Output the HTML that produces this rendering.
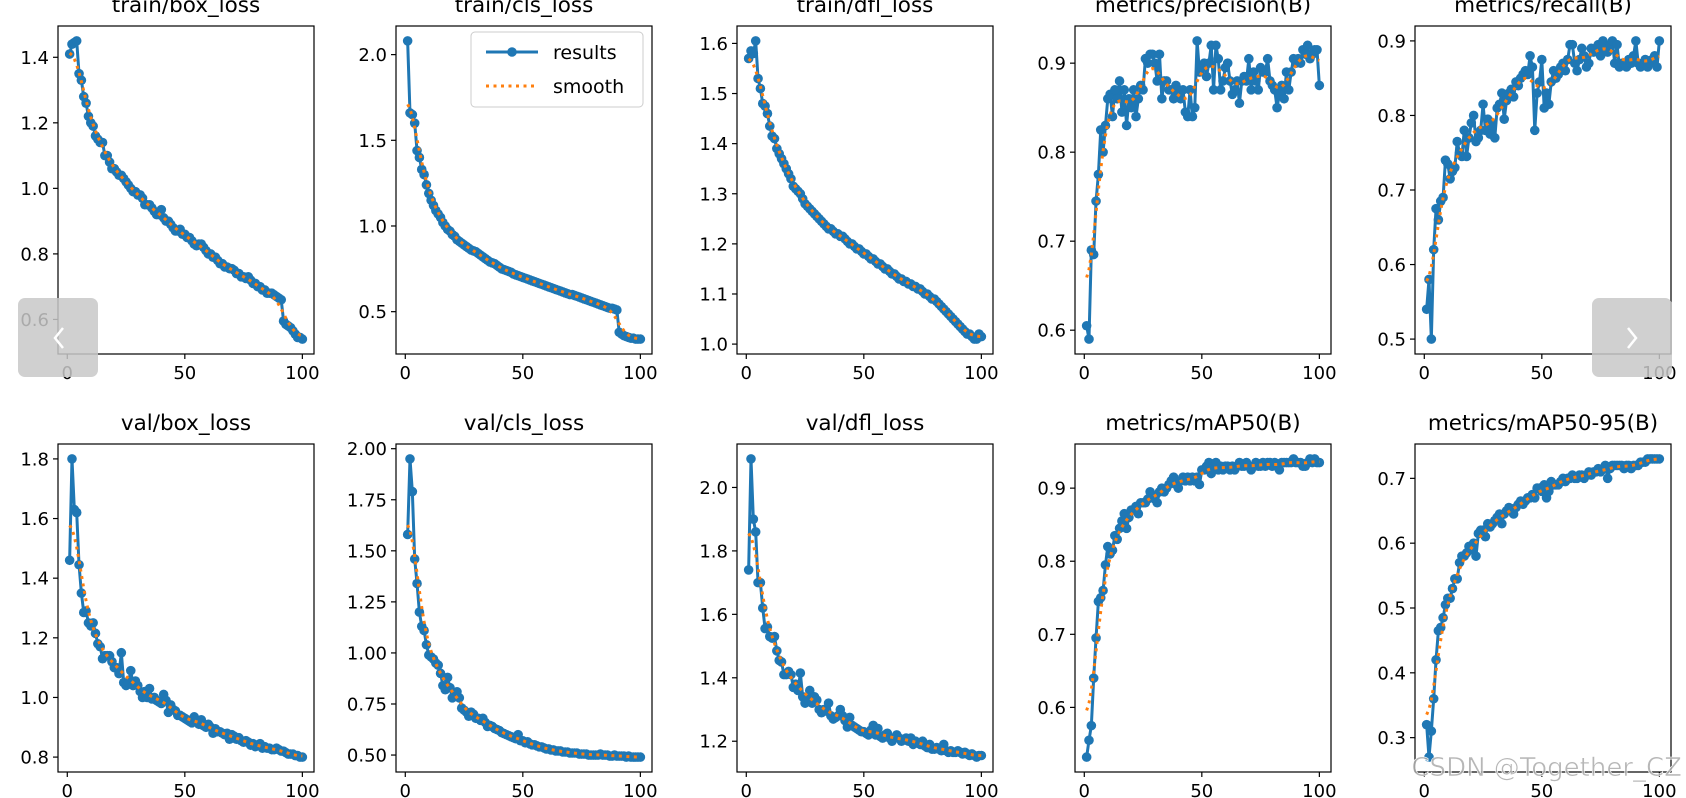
<!DOCTYPE html>
<html><head><meta charset="utf-8"><style>
html,body{margin:0;padding:0;background:#fff;}
svg{display:block;font-family:"DejaVu Sans","Liberation Sans",sans-serif;}
</style></head><body>
<svg id="fig" width="1686" height="798" viewBox="0 0 1686 798" xmlns="http://www.w3.org/2000/svg">
<rect width="1686" height="798" fill="#fff"/>
</svg>
<script>
const titles = ["train/box_loss","train/cls_loss","train/dfl_loss","metrics/precision(B)","metrics/recall(B)","val/box_loss","val/cls_loss","val/dfl_loss","metrics/mAP50(B)","metrics/mAP50-95(B)"];
const xTicks = [0,50,100];
const trainBox = [1.41,1.44,1.445,1.45,1.35,1.33,1.28,1.26,1.22,1.20, 1.19,1.16,1.15,1.14,1.14,1.10,1.10,1.08,1.06,1.06, 1.05,1.04,1.04,1.03,1.02,1.01,1.00,0.99,0.99,0.98, 0.98,0.97,0.95,0.95,0.95,0.94,0.93,0.92,0.92,0.935, 0.91,0.90,0.90,0.89,0.88,0.87,0.87,0.875,0.86,0.86, 0.85,0.85,0.84,0.83,0.825,0.83,0.83,0.82,0.81,0.80, 0.80,0.79,0.79,0.78,0.77,0.77,0.76,0.76,0.755,0.755, 0.75,0.74,0.74,0.73,0.73,0.725,0.73,0.72,0.71,0.71, 0.70,0.70,0.69,0.69,0.68,0.68,0.68,0.675,0.67,0.665, 0.66,0.595,0.585,0.58,0.575,0.565,0.555,0.545,0.545,0.54];
const trainCls = [2.08,1.66,1.65,1.60,1.44,1.40,1.33,1.30,1.24,1.19, 1.15,1.12,1.09,1.07,1.05,1.02,1.00,0.98,0.97,0.95, 0.94,0.92,0.91,0.90,0.89,0.88,0.87,0.86,0.855,0.85, 0.84,0.83,0.82,0.81,0.80,0.79,0.785,0.78,0.77,0.76, 0.75,0.745,0.74,0.735,0.73,0.72,0.715,0.71,0.705,0.70, 0.695,0.69,0.685,0.68,0.675,0.67,0.665,0.66,0.655,0.65, 0.645,0.64,0.635,0.63,0.625,0.62,0.615,0.61,0.605,0.60, 0.60,0.595,0.59,0.585,0.58,0.575,0.57,0.565,0.56,0.555, 0.55,0.545,0.54,0.535,0.53,0.525,0.52,0.52,0.515,0.51, 0.38,0.37,0.36,0.355,0.35,0.345,0.345,0.34,0.34,0.34];
const trainDfl = [1.57,1.585,1.58,1.605,1.53,1.51,1.48,1.475,1.46,1.435, 1.415,1.41,1.39,1.38,1.37,1.36,1.35,1.34,1.33,1.315, 1.31,1.305,1.30,1.29,1.28,1.275,1.27,1.265,1.26,1.255, 1.25,1.245,1.24,1.235,1.23,1.23,1.225,1.22,1.22,1.215, 1.215,1.21,1.205,1.20,1.20,1.195,1.19,1.19,1.185,1.18, 1.18,1.175,1.17,1.17,1.165,1.16,1.16,1.155,1.15,1.15, 1.145,1.14,1.14,1.135,1.13,1.13,1.125,1.125,1.12,1.12, 1.115,1.115,1.11,1.11,1.105,1.10,1.10,1.095,1.09,1.09, 1.085,1.08,1.075,1.07,1.065,1.06,1.055,1.05,1.045,1.04, 1.035,1.03,1.025,1.02,1.02,1.015,1.01,1.01,1.02,1.015];
const precision = [0.605,0.59,0.69,0.685,0.745,0.775,0.825,0.80,0.83,0.86, 0.865,0.84,0.87,0.86,0.88,0.845,0.87,0.83,0.86,0.85, 0.87,0.84,0.86,0.875,0.87,0.905,0.90,0.91,0.91,0.90, 0.88,0.91,0.86,0.88,0.88,0.87,0.87,0.86,0.875,0.865, 0.86,0.87,0.845,0.84,0.87,0.84,0.85,0.925,0.89,0.895, 0.90,0.885,0.90,0.92,0.87,0.92,0.905,0.87,0.88,0.895, 0.90,0.88,0.865,0.87,0.88,0.855,0.88,0.885,0.88,0.905, 0.87,0.89,0.88,0.87,0.895,0.89,0.89,0.905,0.88,0.875, 0.87,0.85,0.865,0.875,0.86,0.89,0.87,0.89,0.905,0.90, 0.905,0.90,0.915,0.91,0.92,0.905,0.91,0.915,0.915,0.875];
const recall = [0.54,0.58,0.50,0.62,0.675,0.66,0.685,0.69,0.74,0.735, 0.715,0.725,0.73,0.765,0.75,0.745,0.78,0.745,0.77,0.79, 0.80,0.765,0.77,0.78,0.815,0.78,0.795,0.775,0.79,0.77, 0.81,0.815,0.83,0.795,0.82,0.83,0.835,0.825,0.845,0.84, 0.85,0.855,0.86,0.855,0.88,0.865,0.78,0.83,0.845,0.875, 0.81,0.83,0.815,0.845,0.86,0.85,0.855,0.865,0.87,0.86, 0.875,0.895,0.895,0.87,0.86,0.875,0.89,0.88,0.865,0.87, 0.89,0.885,0.89,0.895,0.88,0.90,0.89,0.885,0.895,0.90, 0.87,0.895,0.865,0.87,0.87,0.865,0.875,0.87,0.88,0.90, 0.87,0.865,0.87,0.875,0.865,0.87,0.875,0.88,0.865,0.90];
const valBox = [1.46,1.80,1.63,1.62,1.445,1.35,1.285,1.29,1.25,1.24, 1.25,1.215,1.18,1.17,1.13,1.14,1.14,1.14,1.12,1.10, 1.10,1.08,1.15,1.05,1.04,1.05,1.09,1.04,1.055,1.04, 1.02,1.00,1.02,1.00,1.03,0.995,1.00,0.99,0.985,0.98, 1.01,0.99,0.95,0.975,0.96,0.955,0.94,0.94,0.935,0.93, 0.925,0.92,0.915,0.935,0.92,0.91,0.925,0.905,0.90,0.91, 0.90,0.88,0.895,0.885,0.885,0.88,0.875,0.88,0.86,0.875, 0.87,0.86,0.865,0.855,0.85,0.855,0.85,0.84,0.845,0.835, 0.84,0.845,0.83,0.835,0.83,0.83,0.825,0.825,0.83,0.825, 0.82,0.82,0.815,0.81,0.81,0.81,0.805,0.805,0.80,0.80];
const valCls = [1.58,1.95,1.79,1.46,1.34,1.20,1.13,1.11,1.04,0.99, 0.98,0.97,0.95,0.94,0.90,0.84,0.82,0.88,0.83,0.78, 0.79,0.81,0.78,0.73,0.72,0.71,0.69,0.71,0.70,0.68, 0.68,0.67,0.68,0.66,0.64,0.645,0.64,0.63,0.625,0.62, 0.61,0.605,0.60,0.595,0.59,0.585,0.58,0.60,0.57,0.57, 0.56,0.565,0.555,0.55,0.55,0.545,0.54,0.54,0.535,0.53, 0.53,0.525,0.525,0.52,0.52,0.52,0.515,0.515,0.515,0.51, 0.51,0.51,0.51,0.505,0.505,0.505,0.505,0.50,0.50,0.50, 0.50,0.50,0.505,0.50,0.50,0.50,0.495,0.495,0.50,0.495, 0.495,0.495,0.495,0.49,0.495,0.49,0.49,0.49,0.49,0.49];
const valDfl = [1.74,2.09,1.90,1.86,1.70,1.70,1.62,1.555,1.56,1.53, 1.525,1.53,1.485,1.455,1.45,1.41,1.41,1.42,1.41,1.37, 1.38,1.36,1.415,1.34,1.32,1.33,1.36,1.32,1.34,1.33, 1.30,1.29,1.30,1.295,1.32,1.28,1.27,1.275,1.28,1.30, 1.28,1.265,1.245,1.275,1.25,1.245,1.24,1.235,1.23,1.23, 1.225,1.22,1.235,1.25,1.22,1.24,1.215,1.21,1.22,1.225, 1.21,1.20,1.21,1.22,1.21,1.20,1.205,1.21,1.20,1.21, 1.19,1.20,1.195,1.19,1.20,1.185,1.18,1.19,1.175,1.175, 1.18,1.175,1.17,1.19,1.17,1.165,1.17,1.165,1.165,1.17, 1.165,1.16,1.165,1.16,1.155,1.16,1.155,1.15,1.155,1.155];
const map50 = [0.532,0.555,0.575,0.64,0.695,0.745,0.75,0.76,0.795,0.82, 0.81,0.815,0.835,0.83,0.845,0.855,0.865,0.845,0.86,0.87, 0.87,0.875,0.865,0.88,0.88,0.88,0.885,0.895,0.89,0.885, 0.88,0.895,0.90,0.895,0.90,0.905,0.91,0.915,0.905,0.90, 0.91,0.915,0.91,0.915,0.91,0.915,0.91,0.915,0.905,0.925, 0.925,0.93,0.935,0.92,0.925,0.935,0.925,0.93,0.925,0.93, 0.93,0.925,0.93,0.925,0.93,0.935,0.93,0.93,0.935,0.93, 0.925,0.93,0.935,0.93,0.93,0.935,0.93,0.935,0.935,0.93, 0.935,0.93,0.925,0.935,0.935,0.935,0.935,0.935,0.94,0.935, 0.935,0.935,0.93,0.93,0.935,0.94,0.935,0.94,0.935,0.935];
const map5095 = [0.32,0.27,0.31,0.36,0.42,0.465,0.47,0.485,0.505,0.515, 0.515,0.53,0.545,0.545,0.57,0.58,0.58,0.585,0.595,0.59, 0.60,0.58,0.615,0.62,0.62,0.61,0.63,0.625,0.63,0.635, 0.64,0.645,0.63,0.645,0.65,0.655,0.65,0.645,0.655,0.66, 0.665,0.66,0.665,0.67,0.67,0.675,0.67,0.685,0.685,0.68, 0.69,0.67,0.68,0.695,0.69,0.69,0.69,0.695,0.70,0.695, 0.70,0.70,0.705,0.70,0.70,0.705,0.705,0.70,0.705,0.71, 0.705,0.71,0.71,0.715,0.71,0.715,0.72,0.70,0.715,0.72, 0.72,0.72,0.72,0.72,0.715,0.72,0.72,0.715,0.72,0.72, 0.72,0.725,0.725,0.725,0.73,0.73,0.73,0.73,0.73,0.73];
const seriesList = [trainBox,trainCls,trainDfl,precision,recall,valBox,valCls,valDfl,map50,map5095];
const yTickSets = [[0.6,0.8,1.0,1.2,1.4],[0.5,1.0,1.5,2.0],[1.0,1.1,1.2,1.3,1.4,1.5,1.6],[0.6,0.7,0.8,0.9],[0.5,0.6,0.7,0.8,0.9],[0.8,1.0,1.2,1.4,1.6,1.8],[0.5,0.75,1.0,1.25,1.5,1.75,2.0],[1.2,1.4,1.6,1.8,2.0],[0.6,0.7,0.8,0.9],[0.3,0.4,0.5,0.6,0.7]];
const yTickDigits = [1,1,1,1,1,1,2,1,1,1];

const NS = "http://www.w3.org/2000/svg";
const svg = document.getElementById('fig');
const LEFTS = [58,396,737,1075,1415], TOPS = [26,444], AW = 256, AH = 328;
function mk(tag, attrs, parent){const e=document.createElementNS(NS,tag);for(const k in attrs)e.setAttribute(k,attrs[k]);(parent||svg).appendChild(e);return e;}
function smooth(y){const s=3,r=9,n=y.length,out=[];const w=[];let ws=0;for(let k=-r;k<=r;k++){const v=Math.exp(-k*k/(2*s*s));w.push(v);ws+=v;}
 for(let i=0;i<n;i++){let a=0;for(let k=-r;k<=r;k++){let j=i+k;if(j<0)j=-j-1;if(j>=n)j=2*n-j-1;a+=w[k+r]*y[j];}out.push(a/ws);}return out;}

seriesList.forEach((ys,p)=>{
  const L=LEFTS[p%5], T=TOPS[Math.floor(p/5)];
  const g=mk('g',{});
  
  
  const n=ys.length, x0=1, x1=n, xp=(x1-x0)*0.05;
  const xmin=x0-xp, xmax=x1+xp;
  const lo=Math.min(...ys), hi=Math.max(...ys), yp=(hi-lo)*0.05;
  const ymin=lo-yp, ymax=hi+yp;
  const X=v=>L+(v-xmin)/(xmax-xmin)*AW;
  const Y=v=>T+AH-(v-ymin)/(ymax-ymin)*AH;
  const t=mk('text',{x:L+AW/2,y:T-14,'text-anchor':'middle','font-size':'21.5',fill:'#000'},g);
  t.textContent=titles[p];
  
  
  const cid='c'+p;
  const cp=mk('clipPath',{id:cid},g);mk('rect',{x:L,y:T,width:AW,height:AH},cp);
  const pts=ys.map((v,i)=>X(i+1).toFixed(2)+','+Y(v).toFixed(2)).join(' ');
  const pl=mk('polyline',{points:pts,fill:'none',stroke:'#1f77b4','stroke-width':'3','stroke-linejoin':'round','clip-path':'url(#'+cid+')'},g);
  
  
  ys.forEach((v,i)=>{
    const c=mk('circle',{cx:X(i+1).toFixed(2),cy:Y(v).toFixed(2),r:'4.8',fill:'#1f77b4'},g);
    
    
  });
  const sm=smooth(ys);
  const sp=mk('polyline',{points:sm.map((v,i)=>X(i+1).toFixed(2)+','+Y(v).toFixed(2)).join(' '),fill:'none',stroke:'#ff7f0e','stroke-width':'3','stroke-dasharray':'3 4.5','clip-path':'url(#'+cid+')'},g);
  
  
  const fr=mk('rect',{x:L,y:T,width:AW,height:AH,fill:'none',stroke:'#000','stroke-width':'1.2'},g);
  
  
  xTicks.forEach(v=>{
    const x=X(v);
    mk('line',{x1:x,y1:T+AH,x2:x,y2:T+AH+5,stroke:'#000','stroke-width':'1.2'},g);
    const tl=mk('text',{x:x,y:T+AH+25,'text-anchor':'middle','font-size':'18',fill:'#000'},g);
    tl.textContent=String(v);
    
    
  });
  yTickSets[p].forEach(v=>{
    if(v<ymin||v>ymax)return;
    const y=Y(v);
    mk('line',{x1:L-5,y1:y,x2:L,y2:y,stroke:'#000','stroke-width':'1.2'},g);
    const tl=mk('text',{x:L-9,y:y+6.5,'text-anchor':'end','font-size':'18',fill:'#000'},g);
    tl.textContent=v.toFixed(yTickDigits[p]);
    
    
  });
});

const lg=mk('g',{});


mk('rect',{x:471,y:32,width:172,height:75,rx:4,fill:'#fff','fill-opacity':'0.8',stroke:'#ccc','stroke-width':'1'},lg);
mk('line',{x1:486,y1:52,x2:538,y2:52,stroke:'#1f77b4','stroke-width':'3'},lg);
mk('circle',{cx:512,cy:52,r:4.8,fill:'#1f77b4'},lg);
const l1=mk('text',{x:553,y:59,'font-size':'19',fill:'#000'},lg);l1.textContent='results';


mk('line',{x1:486,y1:86,x2:538,y2:86,stroke:'#ff7f0e','stroke-width':'3','stroke-dasharray':'3 4.5'},lg);
const l2=mk('text',{x:553,y:93,'font-size':'19',fill:'#000'},lg);l2.textContent='smooth';



const pb=mk('g',{});


mk('rect',{x:18,y:298,width:80,height:79,rx:7,fill:'#c8c8c8','fill-opacity':'0.85'},pb);
mk('polyline',{points:'63,328 55,338 63,348',fill:'none',stroke:'#fff','stroke-width':'2.5'},pb);
const nb=mk('g',{});


mk('rect',{x:1592,y:298,width:80,height:79,rx:7,fill:'#c8c8c8','fill-opacity':'0.85'},nb);
mk('polyline',{points:'1628,328 1636,338 1628,348',fill:'none',stroke:'#fff','stroke-width':'2.5'},nb);

const wm=mk('text',{x:1682,y:776,'text-anchor':'end','font-size':'26',fill:'#aaa','fill-opacity':'0.85',stroke:'#fff','stroke-width':'0.6'});
wm.textContent='CSDN @Together_CZ';


</script>
</body></html>
